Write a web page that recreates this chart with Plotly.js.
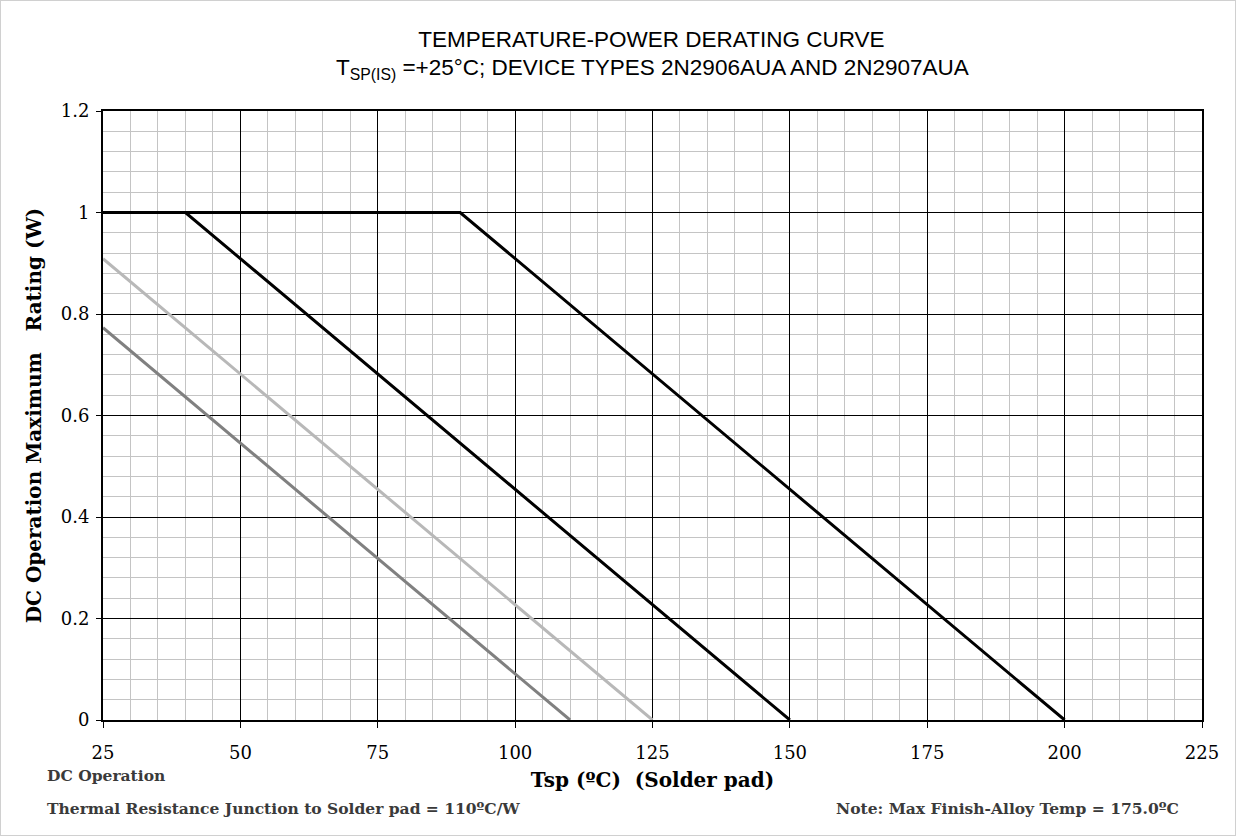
<!DOCTYPE html>
<html><head><meta charset="utf-8">
<script src="https://cdn.plot.ly/plotly-3.0.1.min.js"></script>
<style>html,body{margin:0;padding:0;background:#fff}#wrap{position:relative;width:1236px;height:836px}#chart{position:absolute;left:0;top:0;width:1236px;height:836px}#frame{position:absolute;left:0;top:0;width:1234px;height:834px;border:1px solid #d0d0d0;pointer-events:none}</style>
</head><body><div id="wrap"><div id="chart"></div><div id="frame"></div></div>
<script>
const tspA = [25, 40, 150];
const powA = [1, 1, 0];
const tspB = [25, 90, 200];
const powB = [1, 1, 0];
const tspC = [25, 125];
const powC = [0.909, 0];
const tspD = [25, 110];
const powD = [0.773, 0];
const xTicks = [25, 50, 75, 100, 125, 150, 175, 200, 225];
const yTicks = [0, 0.2, 0.4, 0.6, 0.8, 1, 1.2];
const yTickText = ['0', '0.2', '0.4', '0.6', '0.8', '1', '1.2'];

const serif = 'DejaVu Serif, Liberation Serif, serif';
const sans = 'Liberation Sans Narrow, Liberation Sans, Arial, sans-serif';
const traces = [
  {x: tspD, y: powD, mode: 'lines', line: {color: '#808080', width: 3}},
  {x: tspC, y: powC, mode: 'lines', line: {color: '#b8b8b8', width: 3}},
  {x: tspA, y: powA, mode: 'lines', line: {color: '#000', width: 3}},
  {x: tspB, y: powB, mode: 'lines', line: {color: '#000', width: 3}}
];
const layout = {
  width: 1236, height: 836,
  margin: {l: 103, r: 34, t: 111, b: 116},
  showlegend: false,
  paper_bgcolor: '#fff', plot_bgcolor: '#fff',
  title: {text: 'TEMPERATURE-POWER DERATING CURVE',
    font: {family: sans, size: 22.5, color: '#000'},
    x: 0.527, xanchor: 'center', xref: 'container', yref: 'container', y: 1 - 39 / 836, yanchor: 'middle'},
  xaxis: {range: [25, 225], tickvals: xTicks, ticktext: xTicks.map(String),
    showgrid: true, gridcolor: '#000', gridwidth: 1,
    minor: {dtick: 5, tick0: 25, showgrid: true, gridcolor: '#c4c4c4', gridwidth: 1, ticks: ''},
    showline: true, linecolor: '#000', linewidth: 2, mirror: true,
    ticks: 'outside', ticklen: 6, tickcolor: '#000', ticklabelstandoff: 9,
    tickfont: {family: serif, size: 18, color: '#000'}, zeroline: false,
    title: {text: '<b>Tsp (ºC)  (Solder pad)</b>', font: {family: serif, size: 20, color: '#000'}, standoff: 11}},
  yaxis: {range: [0, 1.2], tickvals: yTicks, ticktext: yTickText,
    showgrid: true, gridcolor: '#000', gridwidth: 1,
    minor: {dtick: 0.04, showgrid: true, gridcolor: '#c4c4c4', gridwidth: 1, ticks: ''},
    showline: true, linecolor: '#000', linewidth: 2, mirror: true,
    ticks: 'outside', ticklen: 5, tickcolor: '#000', ticklabelstandoff: 3,
    tickfont: {family: serif, size: 18, color: '#000'}, zeroline: false,
    title: {text: '<b>DC Operation Maximum   Rating (W)</b>', font: {family: serif, size: 20, color: '#000'}, standoff: 14}},
  annotations: [
    {text: 'T<sub>SP(IS)</sub> =+25°C; DEVICE TYPES 2N2906AUA AND 2N2907AUA', xref: 'paper', yref: 'paper', x: 0.5, y: (720 - 69) / 609, xanchor: 'center', yanchor: 'middle', showarrow: false, font: {family: sans, size: 22.5, color: '#000'}},
    {text: '<b>DC Operation</b>', xref: 'paper', yref: 'paper', x: (45 - 103) / 1099, y: (720 - 776) / 609, xanchor: 'left', yanchor: 'middle', showarrow: false, font: {family: serif, size: 15.5, color: '#3a3a3a'}},
    {text: '<b>Thermal Resistance Junction to Solder pad = 110ºC/W</b>', xref: 'paper', yref: 'paper', x: (45 - 103) / 1099, y: (720 - 808) / 609, xanchor: 'left', yanchor: 'middle', showarrow: false, font: {family: serif, size: 15.5, color: '#3a3a3a'}},
    {text: '<b>Note: Max Finish-Alloy Temp = 175.0ºC</b>', xref: 'paper', yref: 'paper', x: (1181 - 103) / 1099, y: (720 - 808) / 609, xanchor: 'right', yanchor: 'middle', showarrow: false, font: {family: serif, size: 15.5, color: '#3a3a3a'}}
  ]
};
Plotly.newPlot('chart', traces, layout, {staticPlot: true});
</script></body></html>
